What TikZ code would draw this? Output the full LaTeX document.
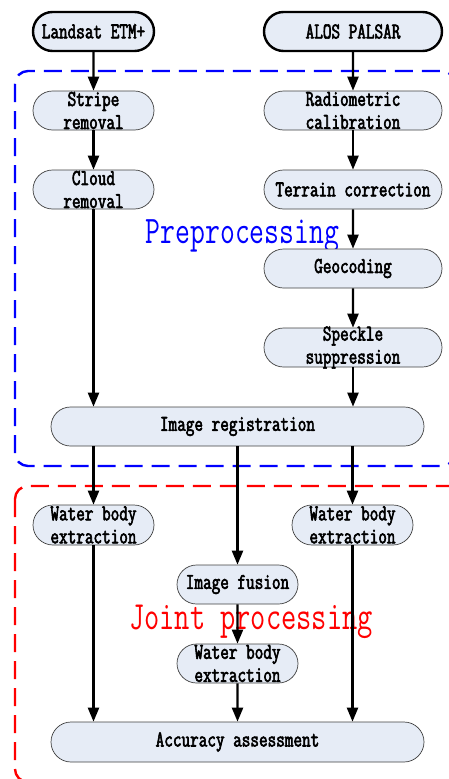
\documentclass[tikz,border=0pt]{standalone}
\usepackage{fontspec}
\usetikzlibrary{shapes.misc,arrows.meta}
\newfontfamily\nodefont{Latin Modern Mono}[FakeStretch=0.74, FakeBold=2.6]
\newfontfamily\titlefont{Latin Modern Mono}[FakeStretch=0.74]
\definecolor{boxfill}{HTML}{E6ECF6}
\definecolor{boxedge}{HTML}{404040}
\tikzset{
  box/.style={rounded rectangle, draw=boxedge, line width=0.7pt, fill=boxfill,
    minimum height=39pt, inner sep=0pt, font=\nodefont\fontsize{22.6}{23}\selectfont},
  srcbox/.style={box, draw=black, line width=2.4pt},
  txt/.style={align=center, inner sep=0pt, font=\nodefont\fontsize{22.6}{23}\selectfont},
  arr/.style={line width=2.3pt, -{Triangle[length=14pt,width=11pt]}},
  region/.style={line width=2.4pt, rounded corners=13pt, dash pattern=on 18pt off 9pt},
  ttl/.style={anchor=base, inner sep=0pt, font=\titlefont\fontsize{39}{39}\selectfont}
}
\begin{document}
\begin{tikzpicture}[x=1pt,y=-1pt]
\useasboundingbox (0,0) rectangle (449,779);
% regions
\draw[region, blue] (15,71) rectangle (455,466);
\draw[region, red] (15,486) rectangle (480,782);
\node[ttl, text=blue] (pre) at (242.5,243) {Preprocessing};
\node[ttl, text=red, font=\titlefont\fontsize{40}{40}\selectfont] (joint) at (251,629) {Joint processing};
% boxes
\node[srcbox, minimum width=121pt] (ls) at (93.5,31.5) {Landsat ETM+};
\node[srcbox, minimum width=178pt] (al) at (353,31.5) {ALOS PALSAR};
\node[box, minimum width=121pt] (sr) at (93.5,110.5) {};
\node[txt] (srt) at (sr) {Stripe\\removal};
\node[box, minimum width=178pt] (rc) at (353,110.5) {};
\node[txt] (rct) at (rc) {Radiometric\\calibration};
\node[box, minimum width=121pt] (cr) at (93.5,189.5) {};
\node[txt] (crt) at (cr) {Cloud\\removal};
\node[box, minimum width=178pt] (tc) at (353,189.5) {Terrain correction};
\node[box, minimum width=178pt] (gc) at (353,268.5) {Geocoding};
\node[box, minimum width=178pt] (ss) at (353,347.5) {};
\node[txt] (sst) at (ss) {Speckle\\suppression};
\node[box, minimum width=373pt] (ir) at (237.5,426.5) {Image registration};
\node[box, minimum width=121pt, minimum height=40pt] (wl) at (93.5,525) {};
\node[txt] (wlt) at (wl) {Water body\\extraction};
\node[box, minimum width=121pt, minimum height=40pt] (wr) at (352.5,525) {};
\node[txt] (wrt) at (wr) {Water body\\extraction};
\node[box, minimum width=121pt] (if) at (237.5,584.5) {Image fusion};
\node[box, minimum width=121pt] (wm) at (237.5,663.5) {};
\node[txt] (wmt) at (wm) {Water body\\extraction};
\node[box, minimum width=373pt, minimum height=40pt] (aa) at (237.5,742) {Accuracy assessment};
% arrows
\draw[arr] (ls) -- (sr);
\draw[arr] (sr) -- (cr);
\draw[arr] (cr.south) -- (cr.south |- ir.north);
\draw[arr] (al) -- (rc);
\draw[arr] (rc) -- (tc);
\draw[arr] (tc) -- (gc);
\draw[arr] (gc) -- (ss);
\draw[arr] (ss.south) -- (ss.south |- ir.north);
\draw[arr] (ir.south -| wl) -- (wl.north);
\draw[arr] (ir.south -| wr) -- (wr.north);
\draw[arr] (ir.south -| if) -- (if.north);
\draw[arr] (if) -- (wm);
\draw[arr] (wl.south) -- (wl.south |- aa.north);
\draw[arr] (wm) -- (aa);
\draw[arr] (wr.south) -- (wr.south |- aa.north);
\end{tikzpicture}
\end{document}
